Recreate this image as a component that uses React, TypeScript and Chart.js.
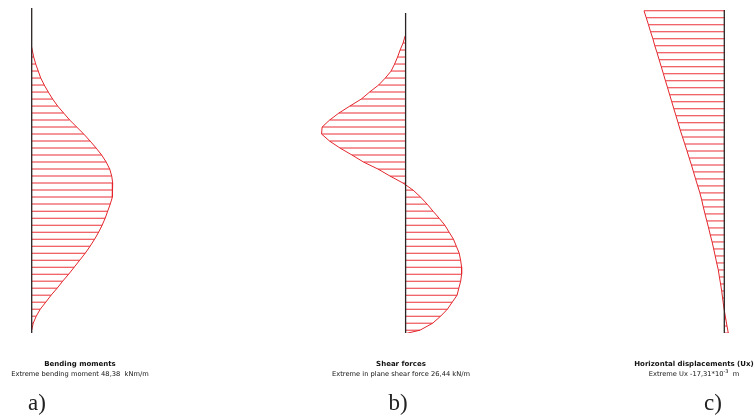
import React, { useEffect, useRef } from "react";
import { Chart, registerables } from "chart.js";

Chart.register(...registerables);

// ---- data (depth in m from the top of the drawn axis, values in the diagram units) ----
const bendingDepth = [1.4, 1.5, 1.75, 2, 2.25, 2.5, 2.75, 3, 3.25, 3.5, 3.75, 4, 4.25, 4.5, 4.75, 5, 5.25, 5.5, 5.75, 6, 6.25, 6.5, 6.75, 7, 7.25, 7.5, 7.75, 8, 8.25, 8.5, 8.75, 9, 9.25, 9.5, 9.75, 10, 10.25, 10.5, 10.75, 11, 11.25, 11.5];
const bendingMoment = [0, 0.3, 1.2, 2.4, 3.9, 5.4, 7.5, 9.9, 12.5, 15.5, 19.1, 22.7, 26.9, 31.1, 34.9, 38.5, 41.8, 44.5, 46.6, 47.8, 48.38, 48.38, 48.0, 46.9, 45.4, 43.9, 42.1, 40.0, 37.6, 34.9, 32.0, 28.7, 25.4, 22.1, 18.5, 15.2, 11.6, 8.4, 5.1, 2.7, 0.9, 0];

const shearDepth = [1, 1.25, 1.5, 1.75, 2, 2.25, 2.5, 2.75, 3, 3.25, 3.5, 3.75, 4, 4.25, 4.5, 4.75, 5, 5.25, 5.5, 5.75, 6, 6.25, 6.5, 6.75, 7, 7.25, 7.5, 7.75, 8, 8.25, 8.5, 8.75, 9, 9.25, 9.5, 9.75, 10, 10.25, 10.5, 10.75, 11, 11.25, 11.5, 11.62];
const shearForce = [-0.16, -0.79, -1.73, -2.52, -3.46, -4.56, -6.39, -8.5, -11.33, -13.94, -17.53, -21.0, -23.92, -26.28, -26.44, -23.92, -20.62, -16.84, -13.22, -8.66, -4.88, -0.79, 2.36, 4.72, 6.77, 8.62, 10.54, 12.34, 13.69, 15.05, 15.96, 16.87, 17.31, 17.63, 17.63, 17.34, 16.75, 16.2, 14.67, 13.16, 11.02, 8.53, 4.53, 0];

const dispDepth = [0.1, 0.35, 0.6, 0.85, 1.1, 1.35, 1.6, 1.85, 2.1, 2.35, 2.6, 2.85, 3.1, 3.35, 3.6, 3.85, 4.1, 4.35, 4.6, 4.85, 5.1, 5.35, 5.6, 5.85, 6.1, 6.35, 6.6, 6.85, 7.1, 7.35, 7.6, 7.85, 8.1, 8.35, 8.6, 8.85, 9.1, 9.35, 9.6, 9.85, 10.1, 10.35, 10.6, 10.85, 11.1, 11.35, 11.6];
const dispUx = [-17.31, -16.82, -16.34, -15.89, -15.39, -14.98, -14.49, -14.04, -13.58, -13.13, -12.68, -12.22, -11.77, -11.32, -10.87, -10.41, -9.96, -9.51, -9.02, -8.52, -8.04, -7.57, -7.09, -6.64, -6.19, -5.73, -5.26, -4.87, -4.53, -4.16, -3.77, -3.38, -3.02, -2.63, -2.29, -1.96, -1.64, -1.29, -1.06, -0.8, -0.56, -0.37, -0.17, 0.06, 0.32, 0.58, 0.86];

const axisTopDepth = [0, 0.18, 0.07];
const depthBottom = 11.6;

const titles = ["Bending moments", "Shear forces", "Horizontal displacements (Ux)"];
const letters = ["a)", "b)", "c)"];

// ---- layout (pixels) ----
const W = 755;
const H = 417;
const PLOT_TOP = 8;
const PLOT_BOTTOM = 333;
const panels = [
  { id: "xa", depth: bendingDepth, values: bendingMoment, axisPx: 31.7, unitsPerPx: 48.38 / 81, textX: 80, letterX: 37 },
  { id: "xb", depth: shearDepth, values: shearForce, axisPx: 405.6, unitsPerPx: 26.44 / 84, textX: 401, letterX: 398 },
  { id: "xc", depth: dispDepth, values: dispUx, axisPx: 724.3, unitsPerPx: 17.31 / 80.3, textX: 694, letterX: 713 },
];

const RED = "#e3262c";
const HATCH = "#ec3036";
const AXIS = "#2b2424";

export default function App() {
  const canvasRef = useRef<HTMLCanvasElement | null>(null);

  useEffect(() => {
    document.body.style.margin = "0";
    const canvas = canvasRef.current;
    if (!canvas) return;

    const datasets: any[] = [];
    const scales: any = {
      y: { type: "linear", reverse: true, min: 0, max: depthBottom, offset: false, display: false, grace: 0 },
    };
    panels.forEach((p, i) => {
      const min = -p.axisPx * p.unitsPerPx;
      scales[p.id] = {
        type: "linear",
        axis: "x",
        position: "bottom",
        min,
        max: min + W * p.unitsPerPx,
        offset: false,
        display: false,
      };
      datasets.push({
        type: "line",
        indexAxis: "y",
        xAxisID: p.id,
        yAxisID: "y",
        data: [
          { x: 0, y: axisTopDepth[i] },
          { x: 0, y: depthBottom },
        ],
        borderColor: AXIS,
        borderWidth: 1.3,
        pointRadius: 0,
        order: 0,
      });
      datasets.push({
        type: "line",
        indexAxis: "y",
        xAxisID: p.id,
        yAxisID: "y",
        data: p.depth.map((d, k) => ({ x: p.values[k], y: d })),
        borderColor: RED,
        borderWidth: 1,
        pointRadius: 0,
        tension: 0,
        order: 1,
      });
      datasets.push({
        type: "bar",
        indexAxis: "y",
        xAxisID: p.id,
        yAxisID: "y",
        data: p.depth.map((d, k) => ({ x: [0, p.values[k]], y: d })),
        backgroundColor: HATCH,
        borderColor: HATCH,
        borderWidth: 0,
        barThickness: 1,
        grouped: false,
        inflateAmount: 0,
        order: 2,
      });
    });

    const chart = new Chart(canvas, {
      type: "bar",
      data: { datasets },
      options: {
        indexAxis: "y",
        animation: false,
        responsive: false,
        events: [],
        layout: { padding: { top: PLOT_TOP, bottom: H - PLOT_BOTTOM, left: 0, right: 0 } },
        scales,
        plugins: { legend: { display: false }, tooltip: { enabled: false }, title: { display: false } },
      } as any,
    });
    return () => chart.destroy();
  }, []);

  const small: React.CSSProperties = {
    position: "absolute",
    width: 300,
    textAlign: "center",
    fontFamily: "'DejaVu Sans', sans-serif",
    fontSize: 7,
    lineHeight: "9px",
    color: "#111",
    whiteSpace: "pre",
  };
  const sub: React.CSSProperties = { ...small, fontSize: 6.7 };
  const letter: React.CSSProperties = {
    position: "absolute",
    width: 60,
    textAlign: "center",
    fontFamily: "'Liberation Serif', serif",
    fontSize: 23,
    lineHeight: "26px",
    color: "#222",
  };

  return (
    <div style={{ position: "relative", width: W, height: H, overflow: "hidden", background: "#fff" }}>
      <canvas ref={canvasRef} width={W} height={H} style={{ position: "absolute", left: 0, top: 0 }} />
      {panels.map((p, i) => (
        <div key={"t" + i} style={{ ...small, left: p.textX - 150, top: 360, fontWeight: "bold" }}>
          {titles[i]}
        </div>
      ))}
      <div style={{ ...sub, left: panels[0].textX - 150, top: 370 }}>
        {"Extreme bending moment 48,38  kNm/m"}
      </div>
      <div style={{ ...sub, left: panels[1].textX - 150, top: 370 }}>
        {"Extreme in plane shear force 26,44 kN/m"}
      </div>
      <div style={{ ...sub, left: panels[2].textX - 150, top: 370 }}>
        {"Extreme Ux -17,31*10"}
        <span style={{ fontSize: 5, verticalAlign: "3px", lineHeight: "0" }}>-3</span>
        {"  m"}
      </div>
      {panels.map((p, i) => (
        <div key={"l" + i} style={{ ...letter, left: p.letterX - 30, top: 390 }}>
          {letters[i]}
        </div>
      ))}
    </div>
  );
}
